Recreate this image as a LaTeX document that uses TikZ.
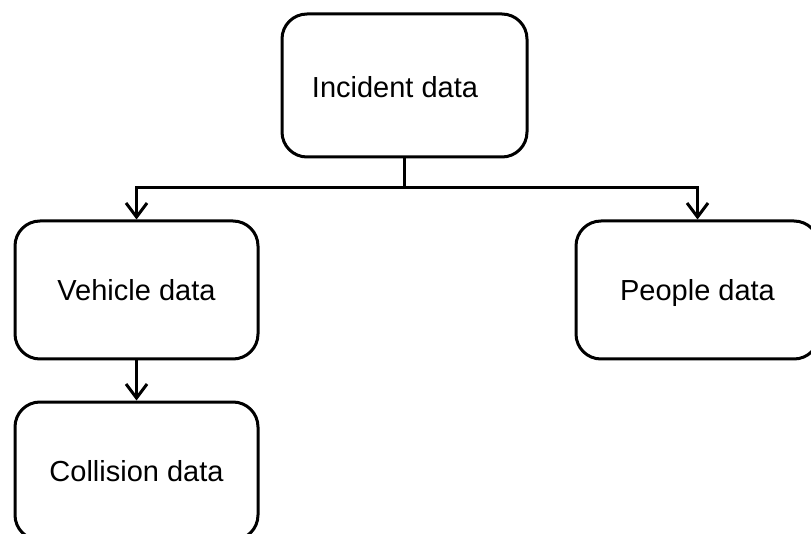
\documentclass[tikz,border=0pt]{standalone}
\usepackage{fontspec}
\setmainfont{Liberation Sans}
\usetikzlibrary{arrows.meta}
\begin{document}
\begin{tikzpicture}[x=1pt,y=-1pt,
  databox/.style={draw=black,line width=3pt,rounded corners=25pt,fill=white,
    minimum width=243pt,minimum height=138pt,inner sep=0pt,
    text height=21pt,text depth=0pt,font=\fontsize{29}{34}\selectfont},
  boxlabel/.style={inner sep=0pt,text height=21pt,text depth=0pt,font=\fontsize{29}{34}\selectfont},
  link/.style={line width=3pt,-{Straight Barb[length=14pt,width=21pt]}},
  joint/.style={line width=3pt}]
  \useasboundingbox (0,0) rectangle (811,534);
  % boxes
  \node[databox,minimum width=245pt,minimum height=143pt] (incident) at (404.5,85.5) {};
  \node[boxlabel] (incidentlabel) at (395,87) {Incident data};
  \node[databox] (vehicle) at (136.5,290) {Vehicle data};
  \node[databox] (people) at (697.5,290) {People data};
  \node[databox] (collision) at (136.5,471) {Collision data};
  % branching connector from the incident box
  \coordinate (split) at (incident.south |- 0,188);
  \draw[joint] (incident.south) -- (split);
  \draw[link] (split) -| (vehicle.north);
  \draw[link] (split) -| (people.north);
  % vehicle to collision
  \draw[link] (vehicle.south) -- (collision.north);
\end{tikzpicture}
\end{document}
